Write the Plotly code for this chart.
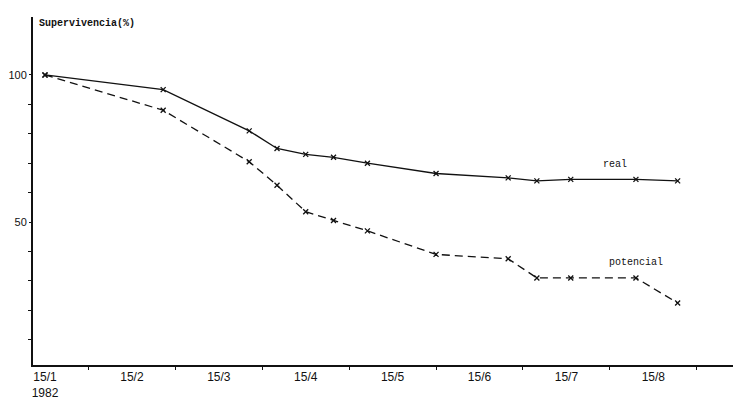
import plotly.graph_objects as go

# Fechas de muestreo expresadas en meses desde el 15/1/1982
meses = [0, 1.36, 2.35, 2.67, 3.0, 3.32, 3.71, 4.5, 5.33, 5.66, 6.05, 6.8, 7.28]
# Supervivencia (%)
real = [100, 95, 81, 75, 73, 72, 70, 66.5, 65, 64, 64.5, 64.5, 64]
potencial = [100, 88, 70.5, 62.5, 53.5, 50.5, 47, 39, 37.5, 31, 31, 31, 22.5]

# Ejes
x_etiquetas_pos = [0, 1, 2, 3, 4, 5, 6, 7]
x_etiquetas = ["15/1<br>1982", "15/2", "15/3", "15/4", "15/5", "15/6", "15/7", "15/8"]
x_marcas = [0.5, 1.5, 2.5, 3.5, 4.5, 5.5, 6.5, 7.5]
y_etiquetas_pos = [50, 100]
y_marcas = [10, 20, 30, 40, 60, 70, 80, 90]

mono = "Liberation Mono, Courier New, monospace"
sans = "Liberation Sans, Arial, sans-serif"

fig = go.Figure()
fig.add_trace(go.Scatter(
    x=meses, y=real, mode="lines+markers", name="real",
    line=dict(color="#111", width=1.3),
    marker=dict(symbol="x-thin", size=5, line=dict(color="#111", width=1.3)),
))
fig.add_trace(go.Scatter(
    x=meses, y=potencial, mode="lines+markers", name="potencial",
    line=dict(color="#111", width=1.3, dash="8px,5px"),
    marker=dict(symbol="x-thin", size=5, line=dict(color="#111", width=1.3)),
))

fig.update_layout(
    width=742, height=396,
    margin=dict(l=25, r=17, t=9, b=39),
    paper_bgcolor="white", plot_bgcolor="white",
    showlegend=False,
    xaxis=dict(
        range=[-0.138, 7.917], showgrid=False, zeroline=False, automargin=False,
        showline=True, linecolor="#111", linewidth=1.5,
        tickmode="array", tickvals=x_etiquetas_pos, ticktext=x_etiquetas,
        ticks="outside", ticklen=0, tickcolor="#111",
        tickfont=dict(family=sans, size=12, color="#111"),
        minor=dict(tickmode="array", tickvals=x_marcas, ticks="outside",
                   ticklen=3, tickcolor="#111", tickwidth=1),
    ),
    yaxis=dict(
        range=[1.4, 119.7], showgrid=False, zeroline=False, automargin=False,
        showline=True, linecolor="#111", linewidth=2,
        tickmode="array", tickvals=y_etiquetas_pos,
        ticktext=[str(v) for v in y_etiquetas_pos],
        ticks="outside", ticklen=2, tickcolor="#111",
        tickfont=dict(family=sans, size=11, color="#111"),
        ticklabelstandoff=0,
        minor=dict(tickmode="array", tickvals=y_marcas, ticks="outside",
                   ticklen=3, tickcolor="#111", tickwidth=1),
    ),
    annotations=[
        dict(text="<b>Supervivencia(%)</b>", xref="paper", yref="paper",
             x=0.0057, y=0.98, xanchor="left", yanchor="middle",
             showarrow=False, font=dict(family=mono, size=10, color="#111")),
        dict(text="real", x=6.56, y=69.4, showarrow=False,
             font=dict(family=mono, size=10, color="#111")),
        dict(text="potencial", x=6.80, y=36.1, showarrow=False,
             font=dict(family=mono, size=10, color="#111")),
    ],
)

fig.write_html("out.html")
